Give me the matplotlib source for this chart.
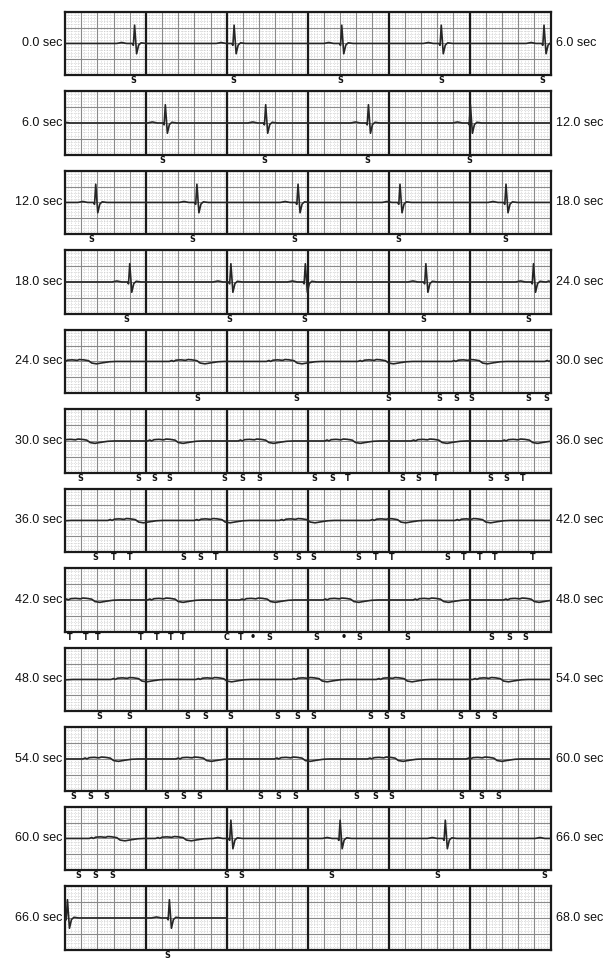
"""Holter strip: 68 s of ECG on 12 six-second strips, with beat annotations."""

import matplotlib

matplotlib.use("Agg")
import matplotlib.pyplot as plt
import matplotlib.transforms as mtransforms
import numpy as np

# --- data read off the strips -------------------------------------------
# large QRS complexes (absolute time, s)
qrs_times = [0.86, 2.09, 3.42, 4.65, 5.92,
             7.24, 8.48, 9.75, 11.01,
             12.38, 13.63, 14.88, 16.14, 17.45,
             18.80, 20.05, 20.97, 22.46, 23.79,
             62.05, 63.40, 64.70, 66.03, 67.29]
# QRS shape: offset from beat (s) and amplitude (large boxes)
qrs_dt = [-0.22, -0.16, -0.10, -0.03, -0.015, 0.0, 0.025, 0.05, 0.08, 0.14]
qrs_amp = [0.0, 0.06, 0.0, 0.0, -0.12, 1.15, -0.65, -0.10, 0.04, 0.0]

# low-amplitude complexes (absolute time of the dip, s)
small_times = [24.33, 25.67, 26.87, 28.00, 29.16,
               30.31, 31.40, 32.52, 33.59, 34.66, 35.78,
               36.91, 37.98, 39.03, 40.15, 41.20,
               42.37, 43.40, 44.54, 45.57, 46.68, 47.80,
               48.95, 50.00, 51.18, 52.23, 53.42,
               54.60, 55.75, 56.97, 58.12, 59.34,
               60.68, 61.50]
small_dt = [-0.38, -0.35, -0.33, -0.30, -0.24, -0.18, -0.15, -0.10, -0.04, 0.0, 0.06, 0.14, 0.22, 0.30]
small_amp = [0.0, 0.06, 0.0, 0.08, 0.10, 0.07, 0.12, 0.10, 0.05, -0.10, -0.15, -0.08, -0.02, 0.0]

record_end = 68.0
strip_len = 6.0

# beat labels under each strip (time within strip, s) and their codes
ann_times = [
    [0.84, 2.08, 3.40, 4.65, 5.90],
    [1.20, 2.46, 3.73, 5.00],
    [0.32, 1.57, 2.84, 4.12, 5.44],
    [0.76, 2.03, 2.96, 4.43, 5.73],
    [1.64, 2.86, 4.00, 4.63, 4.84, 5.02, 5.73, 5.95],
    [0.19, 0.90, 1.10, 1.29, 1.97, 2.19, 2.40, 3.08, 3.30, 3.49, 4.17, 4.37, 4.58, 5.26, 5.46, 5.66],
    [0.38, 0.60, 0.80, 1.46, 1.67, 1.86, 2.60, 2.88, 3.07, 3.63, 3.84, 4.04, 4.72, 4.93, 5.12, 5.31, 5.78],
    [0.06, 0.26, 0.41, 0.93, 1.13, 1.30, 1.46, 2.00, 2.17, 2.32, 2.52, 3.11, 3.44, 3.64, 4.23, 5.27, 5.49, 5.69],
    [0.42, 0.80, 1.51, 1.74, 2.04, 2.63, 2.87, 3.07, 3.77, 3.97, 4.17, 4.88, 5.09, 5.30],
    [0.10, 0.31, 0.51, 1.25, 1.46, 1.66, 2.41, 2.64, 2.85, 3.60, 3.84, 4.03, 4.90, 5.14, 5.36],
    [0.17, 0.38, 0.58, 1.99, 2.18, 3.29, 4.60, 5.92],
    [1.27],
]
ann_codes = [
    "SSSSS",
    "SSSS",
    "SSSSS",
    "SSSSS",
    "SSSSSSSS",
    "SSSSSSSSSTSSTSST",
    "STTSSTSSSSTTSTTTT",
    "TTTTTTTCT•SS•SSSSS",
    "SSSSSSSSSSSSSS",
    "SSSSSSSSSSSSSSS",
    "SSSSSSSS",
    "S",
]

# --- layout (pixels of the 605x959 figure) -------------------------------
FIG_W, FIG_H = 605, 959
STRIP_LEFT, STRIP_W = 65.0, 485.5
STRIP_TOP0, STRIP_PITCH, STRIP_H = 11.7, 79.5, 63.5

TRACE = "#262626"
MAJOR = "#8a8a8a"
MINOR = "#b4b4b4"


def build_trace():
    pts = [(0.0, 0.0), (record_end, 0.0)]
    for t0 in qrs_times:
        pts += [(t0 + d, a) for d, a in zip(qrs_dt, qrs_amp)]
    for t0 in small_times:
        pts += [(t0 + d, a) for d, a in zip(small_dt, small_amp)]
    pts = sorted(p for p in pts if p[0] <= record_end)
    t = np.array([p[0] for p in pts])
    v = np.array([p[1] for p in pts])
    return t, v


def draw_paper(ax):
    minor_x = np.arange(0, strip_len + 1e-6, 0.04)
    minor_y = np.arange(-2, 2 + 1e-6, 0.2)
    ax.vlines(minor_x, -2, 2, colors=MINOR, linewidth=0.45, linestyles=(0, (1, 1.8)), zorder=1)
    ax.hlines(minor_y, 0, strip_len, colors=MINOR, linewidth=0.45, linestyles=(0, (1, 1.8)), zorder=1)
    ax.vlines(np.arange(0, strip_len + 1e-6, 0.2), -2, 2, colors=MAJOR, linewidth=0.8, zorder=2)
    ax.hlines(np.arange(-2, 2.01, 1.0), 0, strip_len, colors=MAJOR, linewidth=0.8, zorder=2)
    ax.vlines(np.arange(1, strip_len, 1.0), -2, 2, colors="#1a1a1a", linewidth=1.6, zorder=3)
    for spine in ax.spines.values():
        spine.set_linewidth(1.6)
        spine.set_color("#1a1a1a")
        spine.set_zorder(4)


def main():
    fig = plt.figure(figsize=(FIG_W / 100, FIG_H / 100), dpi=100)
    fig.patch.set_facecolor("white")
    t, v = build_trace()

    for row in range(len(ann_codes)):
        top = STRIP_TOP0 + STRIP_PITCH * row
        ax = fig.add_axes([
            STRIP_LEFT / FIG_W,
            1 - (top + STRIP_H) / FIG_H,
            STRIP_W / FIG_W,
            STRIP_H / FIG_H,
        ])
        start = strip_len * row
        ax.set_xlim(0, strip_len)
        ax.set_ylim(-2, 2)
        ax.set_xticks([])
        ax.set_yticks([])
        draw_paper(ax)

        ax.plot(t - start, v, color=TRACE, linewidth=1.2, zorder=5, solid_joinstyle="round")

        trans = mtransforms.blended_transform_factory(ax.transData, ax.transAxes)
        for x, code in zip(ann_times[row], ann_codes[row]):
            ax.text(x, -0.085, code, transform=trans, ha="center", va="center",
                    fontsize=7 if code == "•" else 5.8, fontweight="bold",
                    family="DejaVu Sans", color="#111111", clip_on=False)

        yc = 1 - (top + STRIP_H / 2) / FIG_H
        end = min(start + strip_len, record_end)
        fig.text(62 / FIG_W, yc, f"{start:.1f} sec", ha="right", va="center",
                 fontsize=9, family="Liberation Sans", color="#111111")
        fig.text(556 / FIG_W, yc, f"{end:.1f} sec", ha="left", va="center",
                 fontsize=9, family="Liberation Sans", color="#111111")

    fig.savefig("out.png", dpi=100, facecolor="white")


if __name__ == "__main__":
    main()
